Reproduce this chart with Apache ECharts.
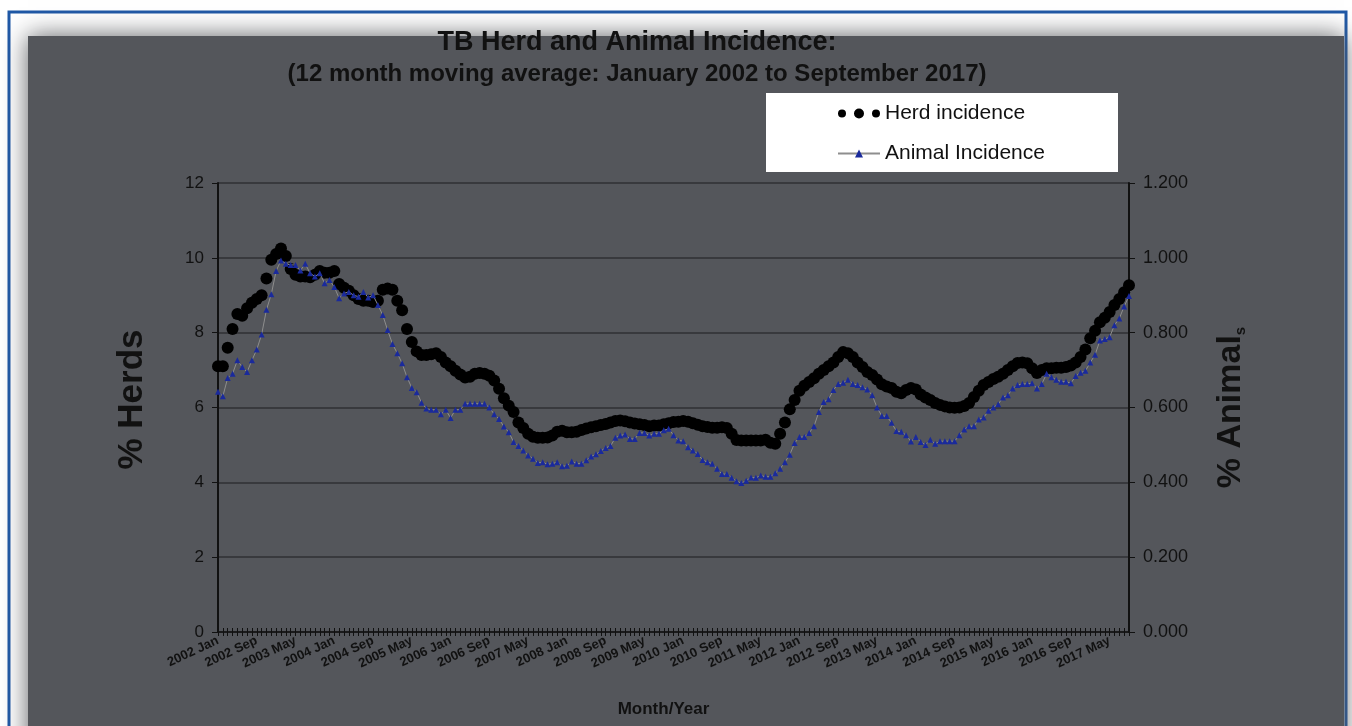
<!DOCTYPE html>
<html>
<head>
<meta charset="utf-8">
<title>TB Herd and Animal Incidence</title>
<script src="https://cdn.jsdelivr.net/npm/echarts@6/dist/echarts.min.js"></script>
<style>
    html, body { margin: 0; padding: 0; background: #fff; }
    #chart { width: 1352px; height: 726px; }
</style>
</head>
<body>
<div id="chart"></div>
<script>
// month labels, Jan 2002 .. Sep 2017
const monthNames = ["Jan", "Feb", "Mar", "Apr", "May", "Jun", "Jul", "Aug", "Sep", "Oct", "Nov", "Dec"];
const firstYear = 2002;

// % herds (left axis), one value per month
const herdIncidence = [
    7.1, 7.1, 7.6, 8.1, 8.5, 8.45, 8.65, 8.8, 8.9, 9.0, 9.45, 9.95,
    10.1, 10.25, 10.05, 9.7, 9.55, 9.5, 9.5, 9.48, 9.55, 9.65, 9.6, 9.6,
    9.65, 9.3, 9.2, 9.12, 9.0, 8.9, 8.85, 8.85, 8.82, 8.85, 9.15, 9.18,
    9.15, 8.85, 8.6, 8.1, 7.75, 7.5, 7.4, 7.4, 7.42, 7.45, 7.35, 7.2,
    7.1, 6.98, 6.88, 6.8, 6.82, 6.9, 6.92, 6.9, 6.85, 6.72, 6.5, 6.25,
    6.05, 5.88, 5.6, 5.45, 5.3, 5.22, 5.19, 5.19, 5.2, 5.25, 5.35, 5.38,
    5.34, 5.34, 5.35, 5.4, 5.44, 5.47, 5.5, 5.53, 5.56, 5.6, 5.64, 5.65,
    5.63, 5.6, 5.57, 5.55, 5.53, 5.5, 5.52, 5.52, 5.55, 5.58, 5.61, 5.62,
    5.64, 5.62, 5.58, 5.54, 5.5, 5.48, 5.46, 5.46, 5.47, 5.45, 5.3, 5.13,
    5.12, 5.12, 5.12, 5.12, 5.12, 5.14, 5.06, 5.03, 5.3, 5.6, 5.95, 6.2,
    6.45, 6.58, 6.68, 6.78, 6.9, 7.0, 7.1, 7.2, 7.35, 7.48, 7.45, 7.35,
    7.2, 7.08, 6.95, 6.87, 6.75, 6.62, 6.56, 6.52, 6.42, 6.38, 6.47, 6.52,
    6.48, 6.35, 6.27, 6.2, 6.12, 6.07, 6.03, 6.0, 5.99, 6.0, 6.04, 6.12,
    6.28, 6.45, 6.6, 6.68, 6.76, 6.82, 6.9, 7.0, 7.1, 7.19, 7.2, 7.18,
    7.05, 6.92, 7.0, 7.05, 7.05, 7.06, 7.06, 7.08, 7.12, 7.2, 7.35, 7.55,
    7.85, 8.05, 8.28, 8.4, 8.55, 8.74, 8.9, 9.08, 9.27
];

// % animals (right axis)
const animalIncidence = [
    0.642, 0.630, 0.679, 0.690, 0.726, 0.708, 0.695, 0.726, 0.755, 0.795, 0.861, 0.903,
    0.965, 0.993, 0.984, 0.981, 0.981, 0.966, 0.984, 0.959, 0.950, 0.959, 0.932, 0.941,
    0.922, 0.892, 0.905, 0.909, 0.900, 0.896, 0.909, 0.894, 0.900, 0.874, 0.847, 0.807,
    0.770, 0.745, 0.718, 0.681, 0.652, 0.641, 0.613, 0.597, 0.594, 0.594, 0.582, 0.594,
    0.572, 0.594, 0.594, 0.610, 0.610, 0.610, 0.610, 0.610, 0.600, 0.582, 0.569, 0.549,
    0.534, 0.508, 0.497, 0.485, 0.472, 0.463, 0.452, 0.454, 0.448, 0.450, 0.454, 0.443,
    0.444, 0.456, 0.450, 0.450, 0.459, 0.469, 0.475, 0.484, 0.492, 0.497, 0.519, 0.525,
    0.528, 0.516, 0.516, 0.532, 0.532, 0.525, 0.530, 0.530, 0.539, 0.543, 0.526, 0.512,
    0.510, 0.494, 0.485, 0.476, 0.460, 0.454, 0.450, 0.436, 0.422, 0.422, 0.412, 0.403,
    0.398, 0.404, 0.413, 0.412, 0.418, 0.415, 0.415, 0.424, 0.436, 0.454, 0.474, 0.505,
    0.521, 0.521, 0.532, 0.550, 0.588, 0.615, 0.622, 0.647, 0.663, 0.666, 0.674, 0.663,
    0.660, 0.654, 0.648, 0.633, 0.600, 0.577, 0.577, 0.559, 0.537, 0.535, 0.526, 0.509,
    0.521, 0.508, 0.500, 0.514, 0.503, 0.510, 0.510, 0.510, 0.510, 0.526, 0.541, 0.550,
    0.550, 0.568, 0.573, 0.591, 0.600, 0.609, 0.627, 0.633, 0.651, 0.660, 0.663, 0.663,
    0.665, 0.651, 0.663, 0.690, 0.681, 0.674, 0.669, 0.669, 0.665, 0.684, 0.693, 0.698,
    0.720, 0.741, 0.779, 0.783, 0.788, 0.820, 0.838, 0.870, 0.898
];

const categories = herdIncidence.map((v, i) => `${firstYear + Math.floor(i / 12)} ${monthNames[i % 12]}`);

const font = "'Liberation Sans', Arial, sans-serif";
const textColor = "#111";
// three dots like the excel legend marker
const herdIcon = "path://M0,5a4,4 0 1,0 8,0a4,4 0 1,0 -8,0z M16,5a5,5 0 1,0 10,0a5,5 0 1,0 -10,0z M34,5a4,4 0 1,0 8,0a4,4 0 1,0 -8,0z";

let option = {
    animation: false,
    backgroundColor: "#fff",
    textStyle: { fontFamily: font },
    graphic: [
        { type: "rect", z: -10, shape: { x: 9, y: 12, width: 1337, height: 740 },
          style: { fill: "#fff", stroke: "#1f58a6", lineWidth: 3 } },
        { type: "rect", z: -9, shape: { x: 28, y: 36, width: 1316, height: 720 },
          style: { fill: "#54565b", shadowBlur: 24, shadowColor: "rgba(84,86,91,0.95)" } },
        { type: "rect", z: -8, shape: { x: 766, y: 93, width: 352, height: 79 },
          style: { fill: "#fff" } },
    ],
    title: {
        text: "TB Herd and Animal Incidence:",
        subtext: "(12 month moving average: January 2002 to September 2017)",
        left: 632, top: 24, textAlign: "center", itemGap: 6,
        textStyle: { fontSize: 27, fontWeight: "bold", color: textColor, fontFamily: font },
        subtextStyle: { fontSize: 24, fontWeight: "bold", color: textColor, fontFamily: font },
    },
    legend: {
        orient: "vertical",
        left: 832, top: 98,
        itemGap: 19, itemWidth: 42, itemHeight: 10,
        selectedMode: false,
        textStyle: { fontSize: 21, color: textColor, fontFamily: font },
        data: [
            { name: "Herd incidence", icon: herdIcon, itemStyle: { color: "#000" } },
            { name: "Animal Incidence" },
        ],
    },
    grid: { left: 218, right: 223, top: 183, bottom: 94, containLabel: false },
    xAxis: [{
        type: "category",
        data: categories,
        boundaryGap: false,
        name: "Month/Year",
        nameLocation: "middle",
        nameGap: 69,
        nameTextStyle: { fontSize: 17, fontWeight: "bold", color: textColor, padding: [0, 20, 0, 0] },
        axisLine: { lineStyle: { color: "#111", width: 1.5 } },
        axisTick: { interval: 0, length: 4, lineStyle: { color: "#111" } },
        axisLabel: { interval: 7, rotate: 25, fontSize: 13, fontWeight: "bold", color: textColor, margin: 8 },
        splitLine: { show: false },
    }, {
        // inner half of the cross-shaped month ticks
        type: "category",
        data: categories,
        boundaryGap: false,
        position: "bottom",
        axisLine: { show: false },
        axisTick: { inside: true, interval: 0, length: 4, lineStyle: { color: "#111" } },
        axisLabel: { show: false },
        splitLine: { show: false },
    }],
    yAxis: [{
        type: "value",
        min: 0, max: 12, interval: 2,
        position: "left",
        name: "% Herds",
        nameLocation: "middle",
        nameGap: 68,
        nameRotate: 90,
        nameTextStyle: { fontSize: 35, fontWeight: "bold", color: textColor, padding: [0, 0, 0, 16] },
        axisLine: { show: true, lineStyle: { color: "#111", width: 2 } },
        axisTick: { show: true, length: 6, lineStyle: { color: "#111" } },
        axisLabel: { fontSize: 17, color: textColor, margin: 14 },
        splitLine: { lineStyle: { color: "#2f3033", width: 1.5 } },
    }, {
        type: "value",
        min: 0, max: 1.2, interval: 0.2,
        position: "right",
        name: "{a|% Animal}{b|s}",
        nameLocation: "middle",
        nameGap: 85,
        nameRotate: 90,
        nameTextStyle: {
            rich: {
                a: { fontSize: 34, fontWeight: "bold", color: textColor, fontFamily: font },
                b: { fontSize: 15, fontWeight: "bold", color: textColor, fontFamily: font, verticalAlign: "bottom" },
            },
        },
        axisLine: { show: true, lineStyle: { color: "#111", width: 2 } },
        axisTick: { show: true, length: 6, lineStyle: { color: "#111" } },
        axisLabel: { fontSize: 18, color: textColor, margin: 14, formatter: (v) => v.toFixed(3) },
        splitLine: { show: false },
    }],
    series: [{
        name: "Herd incidence",
        type: "line",
        data: herdIncidence,
        yAxisIndex: 0,
        symbol: "circle",
        symbolSize: 12,
        showAllSymbol: true,
        lineStyle: { opacity: 0 },
        itemStyle: { color: "#000" },
        z: 3,
    }, {
        name: "Animal Incidence",
        type: "line",
        data: animalIncidence,
        yAxisIndex: 1,
        symbol: "triangle",
        symbolSize: 6,
        showAllSymbol: true,
        lineStyle: { color: "#8e8e8e", width: 1 },
        itemStyle: { color: "#1a2a9c" },
        z: 4,
    }],
};

let mychart = echarts.init(document.getElementById("chart"));
mychart.setOption(option);
</script>
</body>
</html>
